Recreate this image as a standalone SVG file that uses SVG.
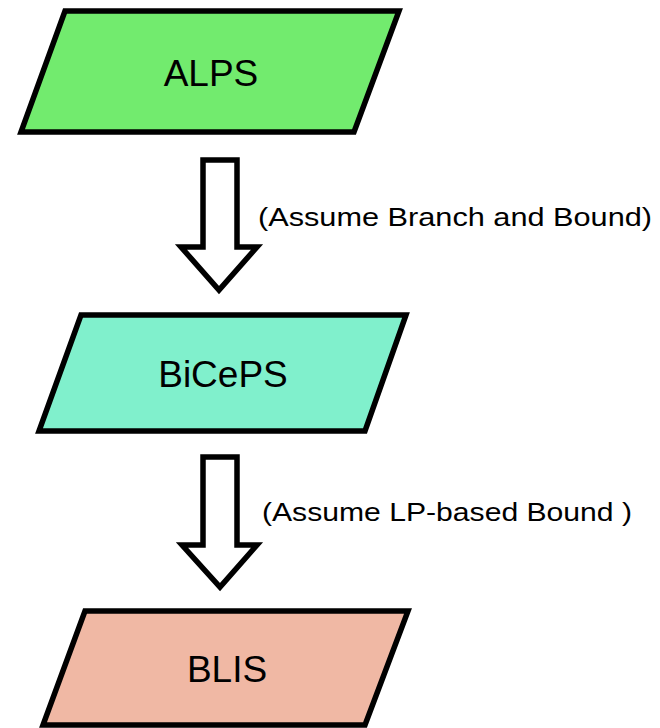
<svg xmlns="http://www.w3.org/2000/svg" width="660" height="728" viewBox="0 0 660 728">
<style>
.node{stroke:#000;stroke-width:5.5;stroke-linejoin:miter}
.nt{font-family:"Liberation Sans",Arial,sans-serif;font-size:37px;fill:#000;text-anchor:middle}
.arrow{fill:#fff;stroke:#000;stroke-width:5.5;stroke-linejoin:miter}
.lbl{font-family:"Liberation Sans",Arial,sans-serif;font-size:25px;fill:#000}
</style>
<rect width="660" height="728" fill="#fff"/>
<g id="connectors">
<g id="arrow1">
<polygon class="arrow" points="203,160 237,160 237,247 257,247 219,290 181,247 203,247"/>
<text class="lbl" x="258" y="226" textLength="394" lengthAdjust="spacingAndGlyphs">(Assume Branch and Bound)</text>
</g>
<g id="arrow2">
<polygon class="arrow" points="203,457 237,457 237,545 257,545 220,587 182,545 203,545"/>
<text class="lbl" x="262" y="521" textLength="370" lengthAdjust="spacingAndGlyphs">(Assume LP-based Bound )</text>
</g>
</g>
<g id="ALPS">
<polygon class="node" fill="#72EB6E" points="65,11 399,11 354,132 21,132"/>
<text class="nt" x="211" y="86">ALPS</text>
</g>
<g id="BiCePS">
<polygon class="node" fill="#80F0CC" points="81,315 406,315 365,431 39,431"/>
<text class="nt" x="223" y="387">BiCePS</text>
</g>
<g id="BLIS">
<polygon class="node" fill="#F0B8A4" points="85,611 408,611 365,725 43,725"/>
<text class="nt" x="227" y="682">BLIS</text>
</g>
</svg>
